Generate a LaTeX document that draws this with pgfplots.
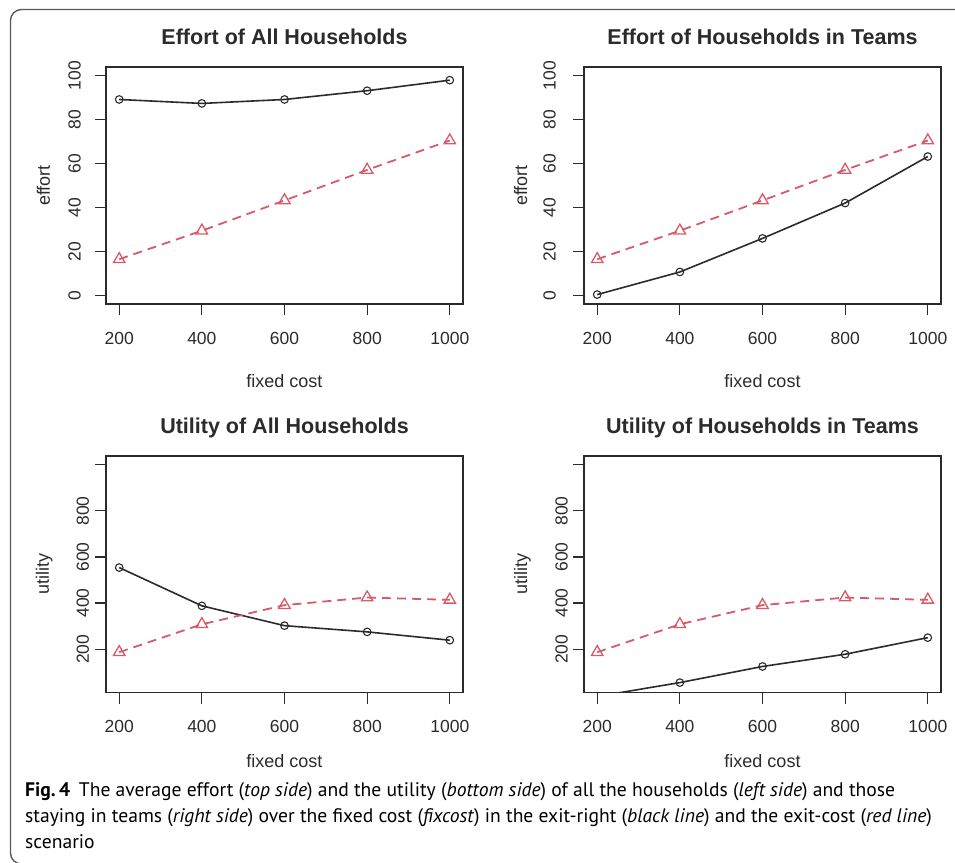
\documentclass[border=0pt]{standalone}
\usepackage{fontspec}
\setmainfont{Liberation Sans}
\newfontfamily\capfont{PT Sans}
\usepackage{pgfplots}
\pgfplotsset{compat=1.18}
\definecolor{rred}{HTML}{D65A68}
\definecolor{rblk}{HTML}{2B2B2B}
\definecolor{framec}{HTML}{5A5A5A}

\pgfplotsset{
  rplot/.style={
    scale only axis, width=357pt, height=237pt,
    xmin=168, xmax=1032,
    xtick={200,400,600,800,1000},
    scaled ticks=false,
    /pgf/number format/1000 sep={},
    /pgf/number format/assume math mode=true,
    tick align=outside, major tick length=11pt,
    xtick pos=bottom, ytick pos=left,
    axis lines=box,
    axis line style={draw=rblk, line width=1.5pt},
    every tick/.style={rblk, line width=1.2pt},
    tick label style={font=\fontsize{17.5}{20}\selectfont, text=rblk},
    xticklabel style={anchor=north, inner sep=0pt},
    yticklabel style={rotate=90, anchor=south, inner sep=0pt},
    label style={font=\fontsize{18}{21}\selectfont, text=rblk},
    title style={font=\fontsize{21.5}{25}\selectfont\bfseries, text=rblk,
      at={(axis description cs:0.5,1)}, anchor=base, yshift=16.5pt, inner sep=0pt},
    ylabel style={inner sep=0pt},
    xlabel style={inner sep=0pt},
    after end axis/.append code={
      \draw[rblk, line width=1.5pt] (rel axis cs:0,0) rectangle (rel axis cs:1,1);
    },
  },
  blk/.style={rblk, line width=1.6pt, mark=o, mark size=3.8pt,
    mark options={line width=1.1pt, solid}},
  rdash/.style={rred, line width=1.8pt, dash pattern=on 9pt off 6pt, mark=triangle,
    mark size=6.6pt, mark options={line width=1.3pt, solid}},
}

\begin{document}
\begin{tikzpicture}
\useasboundingbox (0,0) rectangle (955pt,-862pt);
\begin{scope}
\clip (0,0) rectangle (955pt,-862pt);
\draw[framec, line width=1.4pt, rounded corners=11pt]
  (1000pt,-9.5pt) -- (10.5pt,-9.5pt) -- (10.5pt,-864pt) -- (1000pt,-864pt);
\end{scope}

% top left
\begin{axis}[rplot, at={(106pt,-304pt)}, anchor=south west,
  ymin=-4, ymax=104, ytick={0,20,40,60,80,100},
  title={Effort of All Households},
  xlabel={fixed cost}, ylabel={effort},
  xlabel style={at={(axis description cs:0.5,0)}, anchor=base, yshift=-83.7pt},
  ylabel style={at={(axis description cs:0,0.5)}, anchor=base, yshift=56pt},
  xticklabel shift=16.6pt, yticklabel shift=14pt]
\addplot[blk] coordinates {(200,89.2) (400,87.4) (600,89.2) (800,93.2) (1000,98.0)};
\addplot[rdash] coordinates {(200,16.4) (400,29.4) (600,43.2) (800,57.1) (1000,70.5)};
\end{axis}

% top right
\begin{axis}[rplot, at={(584pt,-304pt)}, anchor=south west,
  ymin=-4, ymax=104, ytick={0,20,40,60,80,100},
  title={Effort of Households in Teams},
  xlabel={fixed cost}, ylabel={effort},
  xlabel style={at={(axis description cs:0.5,0)}, anchor=base, yshift=-83.7pt},
  ylabel style={at={(axis description cs:0,0.5)}, anchor=base, yshift=57pt},
  xticklabel shift=16.6pt, yticklabel shift=17pt]
\addplot[blk] coordinates {(200,0.3) (400,10.6) (600,25.9) (800,42.0) (1000,63.2)};
\addplot[rdash] coordinates {(200,16.4) (400,29.4) (600,43.2) (800,57.1) (1000,70.5)};
\end{axis}

% bottom left
\begin{axis}[rplot, at={(106pt,-692.5pt)}, anchor=south west, height=236.5pt,
  ymin=12, ymax=1038, ytick={200,400,600,800,1000},
  yticklabels={200,400,600,800,},
  title={Utility of All Households},
  xlabel={fixed cost}, ylabel={utility},
  xlabel style={at={(axis description cs:0.5,0)}, anchor=base, yshift=-74.8pt},
  ylabel style={at={(axis description cs:0,0.5)}, anchor=base, yshift=57pt},
  xticklabel shift=16.6pt, yticklabel shift=5.7pt]
\addplot[blk] coordinates {(200,554) (400,388) (600,302) (800,275) (1000,239)};
\addplot[rdash] coordinates {(200,187) (400,308) (600,391) (800,424) (1000,414)};
\end{axis}

% bottom right
\begin{axis}[rplot, at={(584pt,-692.5pt)}, anchor=south west, height=236.5pt,
  ymin=12, ymax=1038, ytick={200,400,600,800,1000},
  yticklabels={200,400,600,800,},
  title={Utility of Households in Teams},
  xlabel={fixed cost}, ylabel={utility},
  xlabel style={at={(axis description cs:0.5,0)}, anchor=base, yshift=-74.8pt},
  ylabel style={at={(axis description cs:0,0.5)}, anchor=base, yshift=57pt},
  xticklabel shift=16.6pt, yticklabel shift=5pt]
\addplot[blk] coordinates {(200,-5) (400,55) (600,125) (800,178) (1000,250)};
\addplot[rdash] coordinates {(200,187) (400,308) (600,391) (800,424) (1000,414)};
\end{axis}

% caption
\begin{scope}[every node/.style={anchor=base west, inner sep=0pt, text=black,
    font=\capfont\fontsize{19.6}{26}\selectfont}]
\node at (25pt,-796pt) {\textbf{Fig.\,4}\hspace{0.45em}The average effort (\textit{top side}) and the utility (\textit{bottom side}) of all the households (\textit{left side}) and those};
\node at (25pt,-822pt) {staying in teams (\textit{right side}) over the fixed cost (\textit{fixcost}) in the exit-right (\textit{black line}) and the exit-cost (\textit{red line})};
\node at (25pt,-848pt) {scenario};
\end{scope}
\end{tikzpicture}
\end{document}
